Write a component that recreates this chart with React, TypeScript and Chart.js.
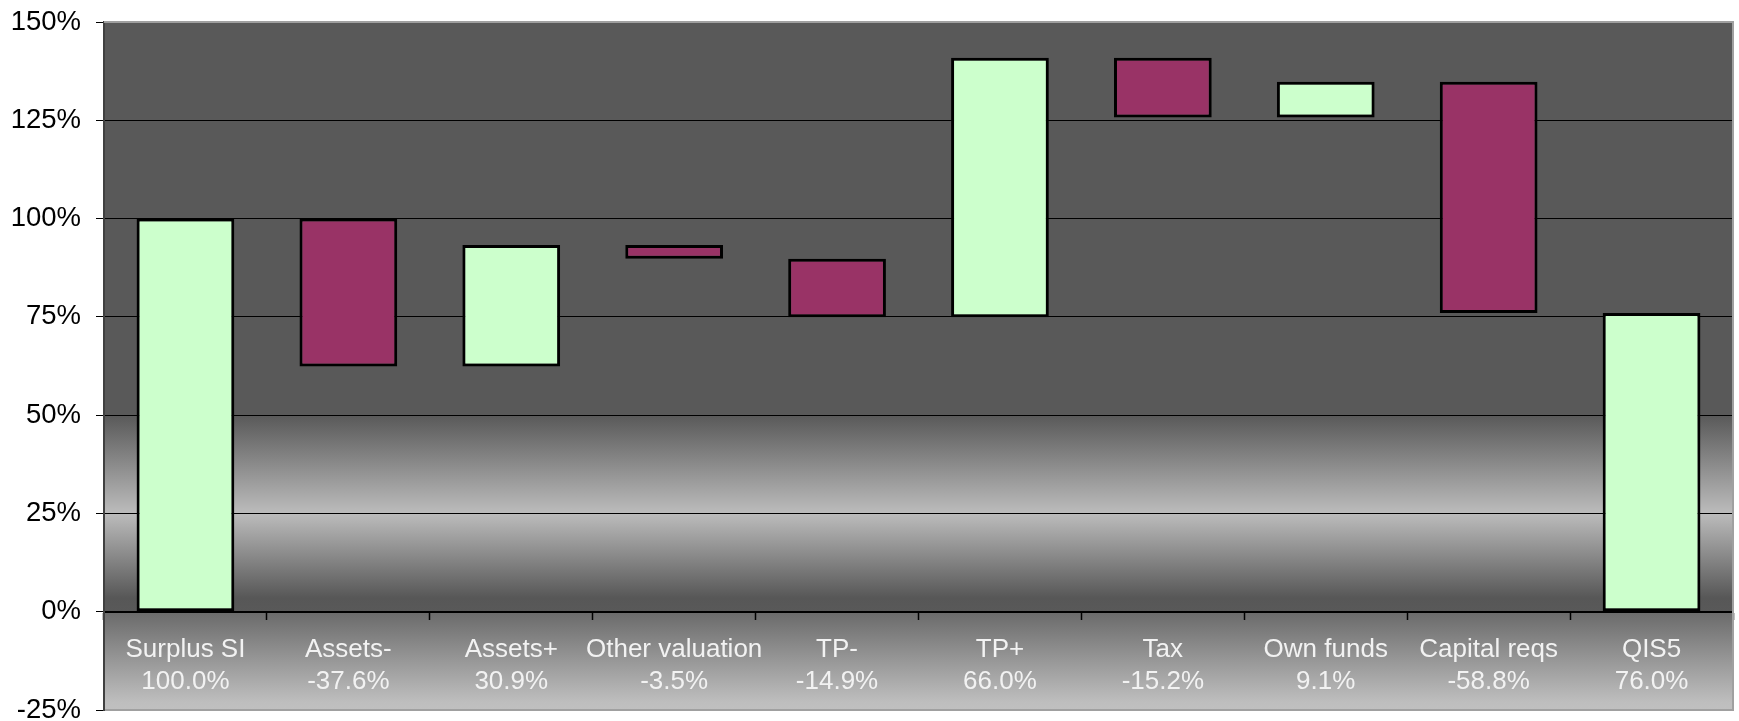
import React, { useEffect, useRef } from 'react';
import { Chart, registerables } from 'chart.js';

Chart.register(...registerables);

const categories = ['Surplus SI', 'Assets-', 'Assets+', 'Other valuation', 'TP-', 'TP+', 'Tax', 'Own funds', 'Capital reqs', 'QIS5'];
const changes = [100.0, -37.6, 30.9, -3.5, -14.9, 66.0, -15.2, 9.1, -58.8, 76.0];
const isTotal = [true, false, false, false, false, false, false, false, false, true];
const yTickValues = [-25, 0, 25, 50, 75, 100, 125, 150];

const GREEN = '#CCFFCC';
const MAROON = '#993366';

function buildRanges(): [number, number][] {
  const out: [number, number][] = [];
  let running = 0;
  for (let i = 0; i < changes.length; i++) {
    if (isTotal[i]) {
      out.push([0, changes[i]]);
      running = changes[i];
    } else {
      const start = running;
      const end = Math.round((running + changes[i]) * 10) / 10;
      out.push([Math.min(start, end), Math.max(start, end)]);
      running = end;
    }
  }
  return out;
}

const bgPlugin = {
  id: 'bgPlugin',
  beforeDraw(chart: any) {
    const { ctx, chartArea: a, scales } = chart;
    const y = scales.y;
    ctx.save();
    ctx.fillStyle = '#ffffff';
    ctx.fillRect(0, 0, chart.width, chart.height);
    const p50 = y.getPixelForValue(50);
    const p0 = y.getPixelForValue(0);
    ctx.fillStyle = '#595959';
    ctx.fillRect(a.left, a.top, a.width, p50 - a.top);
    let g = ctx.createLinearGradient(0, p50, 0, p0);
    g.addColorStop(0, '#595959');
    g.addColorStop(0.5, '#bcbcbc');
    g.addColorStop(0.93, '#575757');
    g.addColorStop(1, '#595959');
    ctx.fillStyle = g;
    ctx.fillRect(a.left, p50, a.width, p0 - p50);
    g = ctx.createLinearGradient(0, p0, 0, a.bottom);
    g.addColorStop(0, '#6a6a6a');
    g.addColorStop(0.92, '#bebebe');
    g.addColorStop(1, '#c0c0c0');
    ctx.fillStyle = g;
    ctx.fillRect(a.left, p0, a.width, a.bottom - p0);
    ctx.restore();
  },
  beforeDatasetsDraw(chart: any) {
    const { ctx, chartArea: a } = chart;
    ctx.save();
    ctx.strokeStyle = '#a0a0a0';
    ctx.lineWidth = 2;
    ctx.beginPath();
    ctx.moveTo(a.left, a.top);
    ctx.lineTo(a.right, a.top);
    ctx.lineTo(a.right, a.bottom);
    ctx.lineTo(a.left + 1, a.bottom);
    ctx.stroke();
    ctx.restore();
  },
};

export default function App() {
  const ref = useRef<HTMLCanvasElement>(null);
  useEffect(() => {
    if (!ref.current) return;
    const ranges = buildRanges();
    const colors = changes.map((v, i) => (isTotal[i] || v >= 0 ? GREEN : MAROON));
    const labels = categories.map((c, i) => [c, changes[i].toFixed(1) + '%']);
    const chart = new Chart(ref.current, {
      type: 'bar',
      data: {
        labels,
        datasets: [
          {
            data: ranges as any,
            backgroundColor: colors,
            borderColor: '#000000',
            borderWidth: 3,
            borderSkipped: false,
            barPercentage: 0.6,
            categoryPercentage: 1,
          },
        ],
      },
      options: {
        responsive: false,
        animation: false,
        layout: { padding: { top: 22, right: 6, bottom: 11, left: 0 } },
        plugins: { legend: { display: false }, tooltip: { enabled: false } },
        scales: {
          x: {
            position: { y: 0 } as any,
            offset: true,
            grid: {
              offset: true,
              drawOnChartArea: false,
              drawTicks: true,
              tickLength: 7,
              tickColor: '#000000',
              tickWidth: 1.5,
            },
            border: { color: '#000000', width: 2 },
            ticks: {
              color: '#f2f2f2',
              font: { family: 'Liberation Sans, Arial, sans-serif', size: 26, lineHeight: 1.23 },
              padding: 15,
              maxRotation: 0,
              autoSkip: false,
            },
          },
          y: {
            min: -25,
            max: 150,
            afterBuildTicks: (scale: any) => {
              scale.ticks = yTickValues.map((v) => ({ value: v }));
            },
            afterFit: (scale: any) => {
              scale.width = 104;
              scale.paddingTop = 0;
              scale.paddingBottom = 0;
            },
            grid: {
              color: (ctx: any) => (ctx.tick && (ctx.tick.value === 150 || ctx.tick.value === -25) ? '#a0a0a0' : '#000000'),
              lineWidth: 1,
              tickLength: 8,
              tickColor: '#000000',
            },
            border: { color: '#404040', width: 2 },
            ticks: {
              color: '#000000',
              font: { family: 'Liberation Sans, Arial, sans-serif', size: 27.5 },
              padding: 15,
              callback: (v: any) => v + '%',
            },
          },
        },
      },
      plugins: [bgPlugin],
    });
    return () => chart.destroy();
  }, []);
  return (
    <div style={{ position: 'absolute', left: 0, top: 0, width: 1739, height: 721 }}>
      <canvas ref={ref} width={1739} height={721} style={{ display: 'block' }} />
    </div>
  );
}
